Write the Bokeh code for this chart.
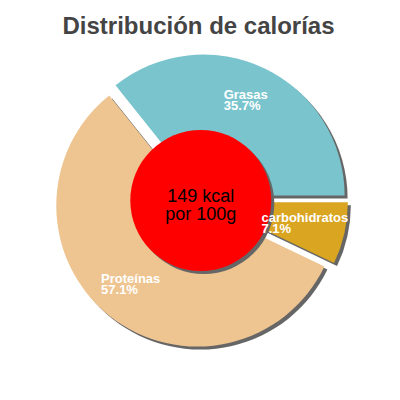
import math
from bokeh.plotting import figure
from bokeh.models import Range1d
from bokeh.core.properties import value
from bokeh.embed import file_html
from bokeh.resources import INLINE

title_text = "Distribución de calorías"
categories = ["Grasas", "Proteínas", "carbohidratos"]
percents = [35.7, 57.1, 7.1]
pct_labels = ["35.7%", "57.1%", "7.1%"]
colors = ["#7AC5CD", "#EEC591", "#DAA520"]
center_lines = ["149 kcal", "por 100g"]

FONT = "Liberation Sans"

p = figure(width=384, height=384, output_backend="svg", toolbar_location=None,
           x_range=Range1d(0, 384), y_range=Range1d(-384, 0), min_border=0)
p.axis.visible = False
p.grid.visible = False
p.outline_line_color = None
p.background_fill_color = "white"
p.border_fill_color = "white"

cx, cy = 200.5, -200.4
R = 141
d = 6
shadow = 3
lab_r = 103

total = sum(percents)
starts, ends, xs, ys, mids = [], [], [], [], []
a = 0.0
for v in percents:
    sa = a
    ea = a + 2 * math.pi * v / total
    m = (sa + ea) / 2
    starts.append(sa)
    ends.append(ea)
    mids.append(m)
    xs.append(cx + d * math.cos(m))
    ys.append(cy + d * math.sin(m))
    a = ea

# shadows
p.wedge(x=[x + shadow for x in xs], y=[y - shadow for y in ys], radius=R,
        start_angle=starts, end_angle=ends, fill_color="#666666", line_color=None)
p.wedge(x=xs, y=ys, radius=R, start_angle=starts, end_angle=ends,
        fill_color=colors, line_color=None)

# center circle
ccx, ccy, cr = 200.3, -200.0, 70.5
p.circle(x=[ccx + shadow], y=[ccy - shadow], radius=cr, fill_color="#666666", line_color=None)
p.circle(x=[ccx], y=[ccy], radius=cr, fill_color="#FF0000", line_color=None)
p.text(x=[ccx, ccx], y=[-195.7, -213.3], text=center_lines, text_color="black",
       text_font=value(FONT), text_font_size="18px", text_align="center",
       text_baseline="alphabetic")

# label width estimate (Arial bold em widths)
bw = {c: 0.556 for c in "abdeghnopqu0123456789"}
bw.update({"c": 0.556, "s": 0.556, "r": 0.389, "t": 0.333, "i": 0.278, "í": 0.278,
           "l": 0.278, "G": 0.778, "P": 0.667, ".": 0.278, "%": 0.889, "h": 0.611,
           "b": 0.611, "d": 0.611, "o": 0.611, "n": 0.611, "u": 0.611})
def tw(s, size=13):
    return sum(bw.get(ch, 0.6) for ch in s) * size

name_x, name_y, pct_y = [], [], []
for i, m in enumerate(mids):
    ax = xs[i] + lab_r * math.cos(m) - 2.5
    ay = ys[i] + lab_r * math.sin(m) + 8
    w = max(tw(categories[i]), tw(pct_labels[i]))
    name_x.append(ax - w / 2)
    name_y.append(ay)
    pct_y.append(ay - 11)

p.text(x=name_x, y=name_y, text=categories, text_color="white",
       text_font=value(FONT), text_font_size="13px", text_font_style="bold",
       text_align="left", text_baseline="alphabetic")
p.text(x=name_x, y=pct_y, text=pct_labels, text_color="white",
       text_font=value(FONT), text_font_size="13px", text_font_style="bold",
       text_align="left", text_baseline="alphabetic")

p.text(x=[198], y=[-25], text=[title_text], text_color="#444444",
       text_font=value(FONT), text_font_size="24px", text_font_style="bold",
       text_align="center", text_baseline="alphabetic")

open("out.html", "w").write(file_html(p, INLINE))
